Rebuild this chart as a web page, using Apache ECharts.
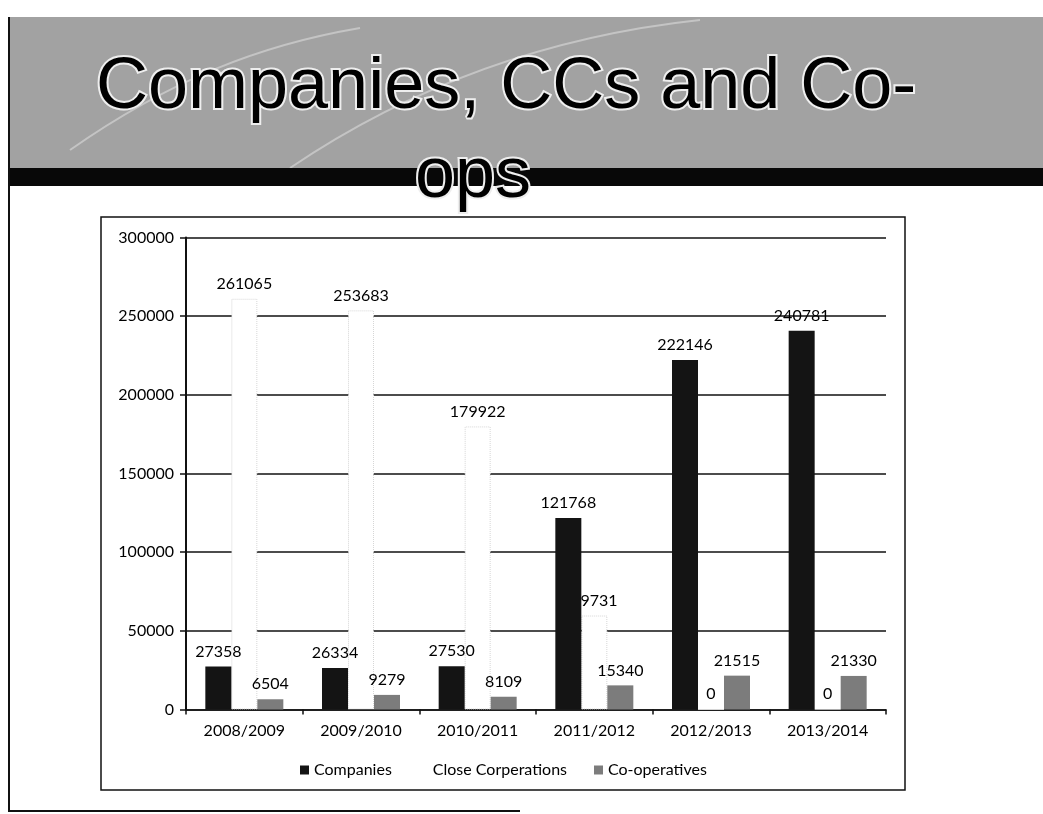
<!DOCTYPE html>
<html>
<head>
<meta charset="utf-8">
<script src="https://cdn.jsdelivr.net/npm/echarts@6/dist/echarts.min.js"></script>
<style>
html,body{margin:0;padding:0;background:#fff;}
#chart{width:1043px;height:814px;}
</style>
</head>
<body>
<div id="chart"></div>
<script>
const titleLine1 = 'Companies, CCs and Co-';
const titleLine2 = 'ops';
const categories = ['2008/2009', '2009/2010', '2010/2011', '2011/2012', '2012/2013', '2013/2014'];
const companies = [27358, 26334, 27530, 121768, 222146, 240781];
const closeCorporations = [261065, 253683, 179922, 59731, 0, 0];
const cooperatives = [6504, 9279, 8109, 15340, 21515, 21330];
const seriesNames = ['Companies', 'Close Corperations', 'Co-operatives'];
const yTicks = { min: 0, max: 300000, interval: 50000 };

const FONT = 'Lato';
const chart = echarts.init(document.getElementById('chart'), null, { renderer: 'canvas' });

const labelStyle = {
  show: true, position: 'top', distance: 7,
  color: '#000', fontFamily: FONT, fontSize: 16
};

chart.setOption({
  backgroundColor: '#ffffff',
  animation: false,
  grid: { left: 186, right: 157, top: 237.5, bottom: 104.5, containLabel: false },
  legend: {
    top: 757, left: 295,
    itemWidth: 9, itemHeight: 9, itemGap: 27,
    textStyle: { color: '#000', fontFamily: FONT, fontSize: 16 },
    data: [
      { name: seriesNames[0], icon: 'rect', itemStyle: { color: '#141414' } },
      { name: seriesNames[1], icon: 'rect', itemStyle: { color: 'rgba(0,0,0,0)', borderWidth: 0 } },
      { name: seriesNames[2], icon: 'rect', itemStyle: { color: '#7c7c7c' } }
    ]
  },
  xAxis: {
    type: 'category', data: categories,
    axisLine: { show: true, lineStyle: { color: '#111', width: 1.5 } },
    axisTick: { show: true, length: 5, lineStyle: { color: '#111', width: 1.5 } },
    axisLabel: { color: '#000', fontFamily: FONT, fontSize: 16, margin: 13 },
    splitLine: { show: false }
  },
  yAxis: {
    type: 'value', min: yTicks.min, max: yTicks.max, interval: yTicks.interval,
    axisLine: { show: true, lineStyle: { color: '#111', width: 2 } },
    axisTick: { show: true, length: 6, lineStyle: { color: '#111', width: 1.5 } },
    axisLabel: { color: '#000', fontFamily: FONT, fontSize: 16, margin: 12, formatter: v => String(v) },
    splitLine: { show: true, lineStyle: { color: '#111', width: 1.5 } }
  },
  series: [
    {
      name: seriesNames[0], type: 'bar', data: companies, z: 4,
      barWidth: 26, barGap: '0%',
      itemStyle: { color: '#141414' },
      label: labelStyle
    },
    {
      name: seriesNames[1], type: 'bar', data: closeCorporations, z: 2,
      barWidth: 26, barGap: '0%',
      itemStyle: { color: '#ffffff', borderColor: '#d6d6d6', borderWidth: 1, borderType: 'dotted' },
      label: labelStyle
    },
    {
      name: seriesNames[2], type: 'bar', data: cooperatives, z: 4,
      barWidth: 26, barGap: '0%',
      itemStyle: { color: '#7c7c7c' },
      label: labelStyle
    }
  ],
  graphic: [
    { type: 'rect', z: -5, shape: { x: 9, y: 17, width: 1050, height: 152 }, style: { fill: '#a2a2a2' } },
    { type: 'bezierCurve', z: -4, shape: { x1: 70, y1: 150, x2: 360, y2: 28, cpx1: 170, cpy1: 80, cpx2: 260, cpy2: 45 }, style: { stroke: '#c4c4c4', lineWidth: 2, fill: null } },
    { type: 'bezierCurve', z: -4, shape: { x1: 290, y1: 168, x2: 700, y2: 20, cpx1: 420, cpy1: 80, cpx2: 560, cpy2: 35 }, style: { stroke: '#c4c4c4', lineWidth: 2, fill: null } },
    { type: 'rect', z: -3, shape: { x: 9, y: 168, width: 1050, height: 18 }, style: { fill: '#080808' } },
    { type: 'line', z: -3, shape: { x1: 9, y1: 17, x2: 9, y2: 812 }, style: { stroke: '#111', lineWidth: 2 } },
    { type: 'line', z: -3, shape: { x1: 9, y1: 811, x2: 520, y2: 811 }, style: { stroke: '#111', lineWidth: 2 } },
    { type: 'rect', z: -3, shape: { x: 101, y: 217, width: 804, height: 573 }, style: { fill: 'rgba(0,0,0,0)', stroke: '#111', lineWidth: 1.5 } },
    { type: 'text', z: 10, x: 96, y: 88, style: { text: titleLine1, fill: '#000', stroke: '#eeeeee', lineWidth: 4, strokeFirst: true, fontFamily: 'Liberation Sans', fontSize: 72, align: 'left', verticalAlign: 'middle' } },
    { type: 'text', z: 10, x: 473, y: 177, style: { text: titleLine2, fill: '#000', stroke: '#eeeeee', lineWidth: 4, strokeFirst: true, fontFamily: 'Liberation Sans', fontSize: 72, align: 'center', verticalAlign: 'middle' } }
  ]
});
</script>
</body>
</html>
